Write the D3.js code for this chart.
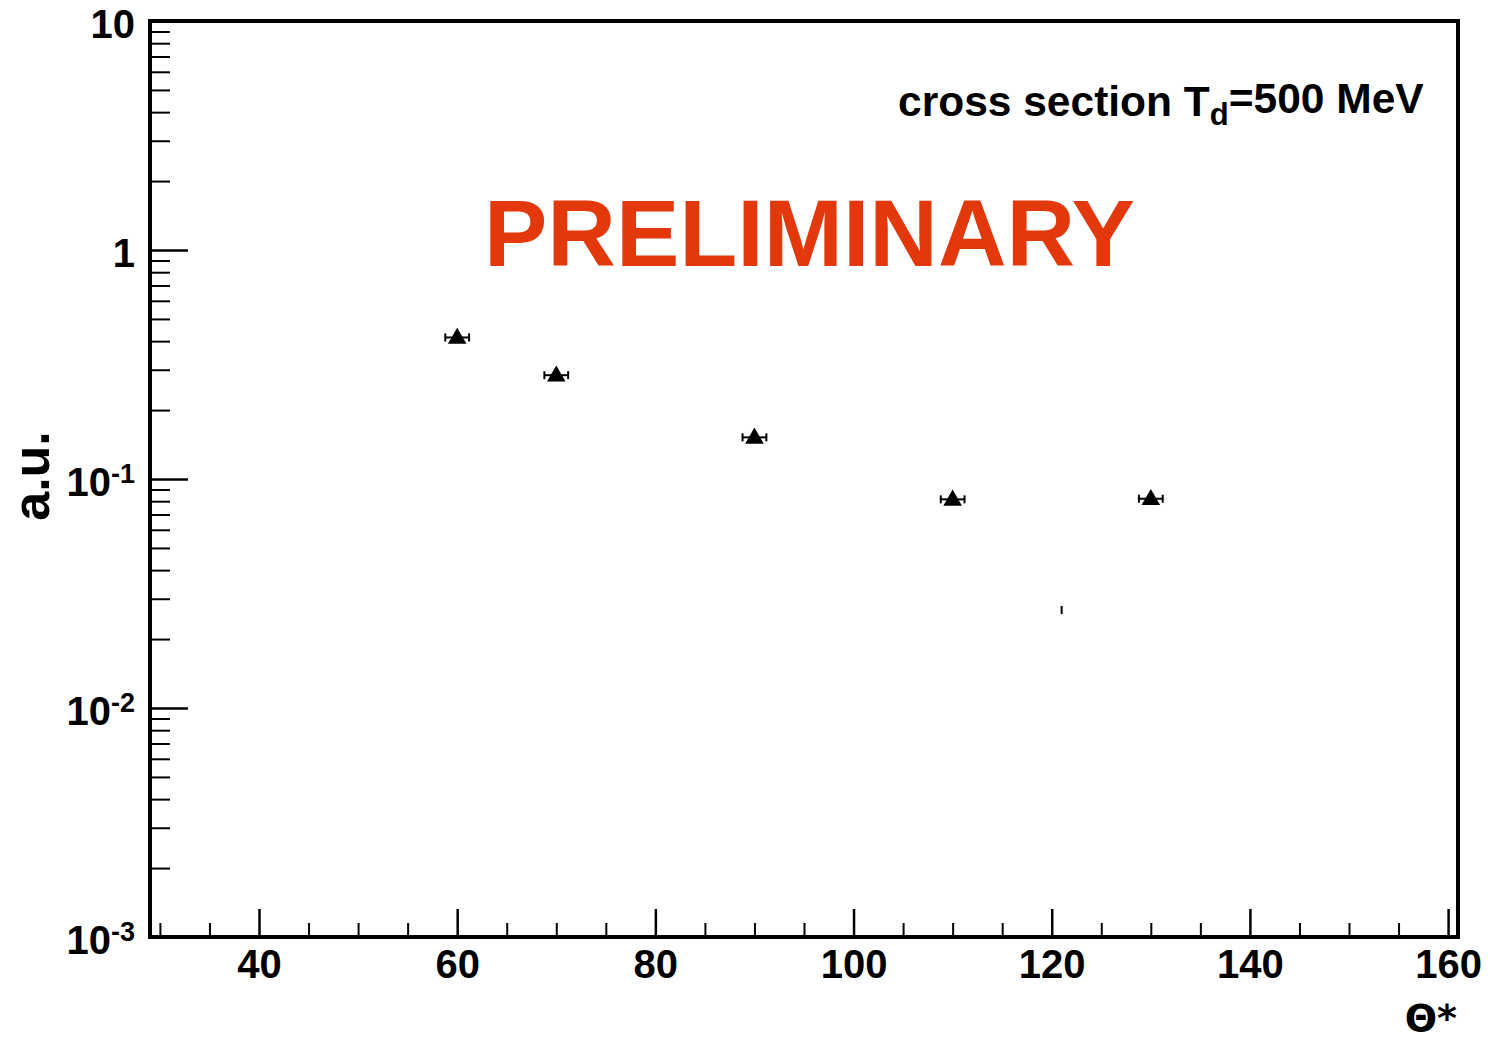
<!DOCTYPE html>
<html>
<head>
<meta charset="utf-8">
<script src="https://cdn.jsdelivr.net/npm/d3@7"></script>
<style>
  body { margin: 0; background: #fff; }
  svg text { font-family: "Liberation Sans", Arial, sans-serif; font-weight: bold; }
</style>
</head>
<body>
<svg id="chart" width="1488" height="1038"></svg>
<script>
// measured points (Theta*, cross section in a.u.)
var theta = [60, 70, 90, 110, 130];
var sigma = [0.415, 0.284, 0.152, 0.0815, 0.082];
var thetaErr = [1.2, 1.2, 1.2, 1.2, 1.2];
var sigmaErr = [0.012, 0.008, 0.005, 0.003, 0.003];

// lone point without marker
var strayTheta = [121];
var strayValue = [0.0268];
var strayErr = [0.0011];

var xMajor = [40, 60, 80, 100, 120, 140, 160];
var yMajor = [10, 1, 0.1, 0.01, 0.001];
var yLabels = ["10", "1", "10|-1", "10|-2", "10|-3"];

var svg = d3.select("#chart"),
    plotLeft = 150, plotRight = 1458, plotTop = 21, plotBottom = 937;

var x = d3.scaleLinear().domain([29, 161]).range([plotLeft, plotRight]);
var y = d3.scaleLog().domain([0.001, 10]).range([plotBottom, plotTop]);

// minor ticks
var xMinor = d3.range(30, 161, 5).filter(function (v) { return v % 20 != 0; });
var yMinor = [];
for (var e = -3; e < 1; e++) {
    for (var m = 2; m <= 9; m++) yMinor.push(m * Math.pow(10, e));
}

svg.append("g")
    .attr("transform", "translate(0," + plotBottom + ")")
    .call(d3.axisBottom(x).tickValues(xMinor).tickSizeInner(-14).tickSizeOuter(0).tickFormat(""))
    .call(function (g) { g.select(".domain").remove(); })
    .selectAll("line").attr("stroke-width", 2);

svg.append("g")
    .attr("transform", "translate(0," + plotBottom + ")")
    .call(d3.axisBottom(x).tickValues(xMajor).tickSizeInner(-28).tickSizeOuter(0).tickPadding(13))
    .call(function (g) { g.select(".domain").remove(); })
    .call(function (g) {
        g.selectAll("line").attr("stroke-width", 2.5);
        g.selectAll("text").style("font-size", "40px").attr("fill", "#000");
    });

svg.append("g")
    .attr("transform", "translate(" + plotLeft + ",0)")
    .call(d3.axisLeft(y).tickValues(yMinor).tickSizeInner(-20).tickSizeOuter(0).tickFormat(""))
    .call(function (g) { g.select(".domain").remove(); })
    .selectAll("line").attr("stroke-width", 2);

var yAxis = svg.append("g")
    .attr("transform", "translate(" + plotLeft + ",0)")
    .call(d3.axisLeft(y).tickValues(yMajor).tickSizeInner(-38).tickSizeOuter(0).tickPadding(15)
        .tickFormat(function (d, i) { return yLabels[i]; }))
    .call(function (g) { g.select(".domain").remove(); });

yAxis.selectAll("line").attr("stroke-width", 2.5);
yAxis.selectAll("text")
    .style("font-size", "40px")
    .attr("fill", "#000")
    .attr("dy", "0.42em")
    .each(function () {
        var t = d3.select(this), parts = t.text().split("|");
        t.text(parts[0]);
        if (parts.length > 1) {
            t.append("tspan").attr("dy", "-0.5em").style("font-size", "27px").text(parts[1]);
        }
    });

// frame
svg.append("rect")
    .attr("x", plotLeft).attr("y", plotTop)
    .attr("width", plotRight - plotLeft).attr("height", plotBottom - plotTop)
    .attr("fill", "none").attr("stroke", "#000").attr("stroke-width", 4);

// data points with error bars
var pts = theta.map(function (t, i) {
    return { t: t, v: sigma[i], dt: thetaErr[i], dv: sigmaErr[i] };
});

var pg = svg.append("g");
pg.selectAll(".xerr")
    .data(pts).enter().append("line")
    .attr("x1", function (d) { return x(d.t - d.dt); })
    .attr("x2", function (d) { return x(d.t + d.dt); })
    .attr("y1", function (d) { return y(d.v); })
    .attr("y2", function (d) { return y(d.v); })
    .attr("stroke", "#000").attr("stroke-width", 2);

pg.selectAll(".capL")
    .data(pts).enter().append("line")
    .attr("x1", function (d) { return x(d.t - d.dt); })
    .attr("x2", function (d) { return x(d.t - d.dt); })
    .attr("y1", function (d) { return y(d.v) - 4; })
    .attr("y2", function (d) { return y(d.v) + 4; })
    .attr("stroke", "#000").attr("stroke-width", 2);

pg.selectAll(".capR")
    .data(pts).enter().append("line")
    .attr("x1", function (d) { return x(d.t + d.dt); })
    .attr("x2", function (d) { return x(d.t + d.dt); })
    .attr("y1", function (d) { return y(d.v) - 4; })
    .attr("y2", function (d) { return y(d.v) + 4; })
    .attr("stroke", "#000").attr("stroke-width", 2);

pg.selectAll(".yerr")
    .data(pts).enter().append("line")
    .attr("x1", function (d) { return x(d.t); })
    .attr("x2", function (d) { return x(d.t); })
    .attr("y1", function (d) { return y(d.v + d.dv); })
    .attr("y2", function (d) { return y(d.v - d.dv); })
    .attr("stroke", "#000").attr("stroke-width", 2);

var tri = d3.symbol().type(d3.symbolTriangle).size(150);
pg.selectAll(".mark")
    .data(pts).enter().append("path")
    .attr("d", tri)
    .attr("transform", function (d) { return "translate(" + x(d.t) + "," + (y(d.v) + 1) + ")"; })
    .attr("fill", "#000");

pg.selectAll(".stray")
    .data(strayTheta).enter().append("line")
    .attr("x1", function (d) { return x(d); })
    .attr("x2", function (d) { return x(d); })
    .attr("y1", function (d, i) { return y(strayValue[i] + strayErr[i]); })
    .attr("y2", function (d, i) { return y(strayValue[i] - strayErr[i]); })
    .attr("stroke", "#000").attr("stroke-width", 2);

// texts
var info = svg.append("text")
    .attr("x", 898).attr("y", 116)
    .style("font-size", "42.5px").attr("fill", "#000");
info.append("tspan").text("cross section T");
info.append("tspan").attr("dy", "0.3em").style("font-size", "31px").text("d");
info.append("tspan").attr("dy", "-0.3em").text("=500 MeV");

svg.append("text")
    .attr("x", 484).attr("y", 266)
    .style("font-size", "95px")
    .attr("fill", "#e3380c")
    .text("PRELIMINARY");

svg.append("text")
    .attr("transform", "translate(49,476) rotate(-90)")
    .attr("text-anchor", "middle")
    .style("font-size", "52px")
    .attr("fill", "#000")
    .text("a.u.");

svg.append("text")
    .attr("x", 1457).attr("y", 1031)
    .attr("text-anchor", "end")
    .style("font-size", "38px")
    .style("font-family", "'DejaVu Sans', sans-serif")
    .attr("fill", "#000")
    .text("\u0398*");
</script>
</body>
</html>
